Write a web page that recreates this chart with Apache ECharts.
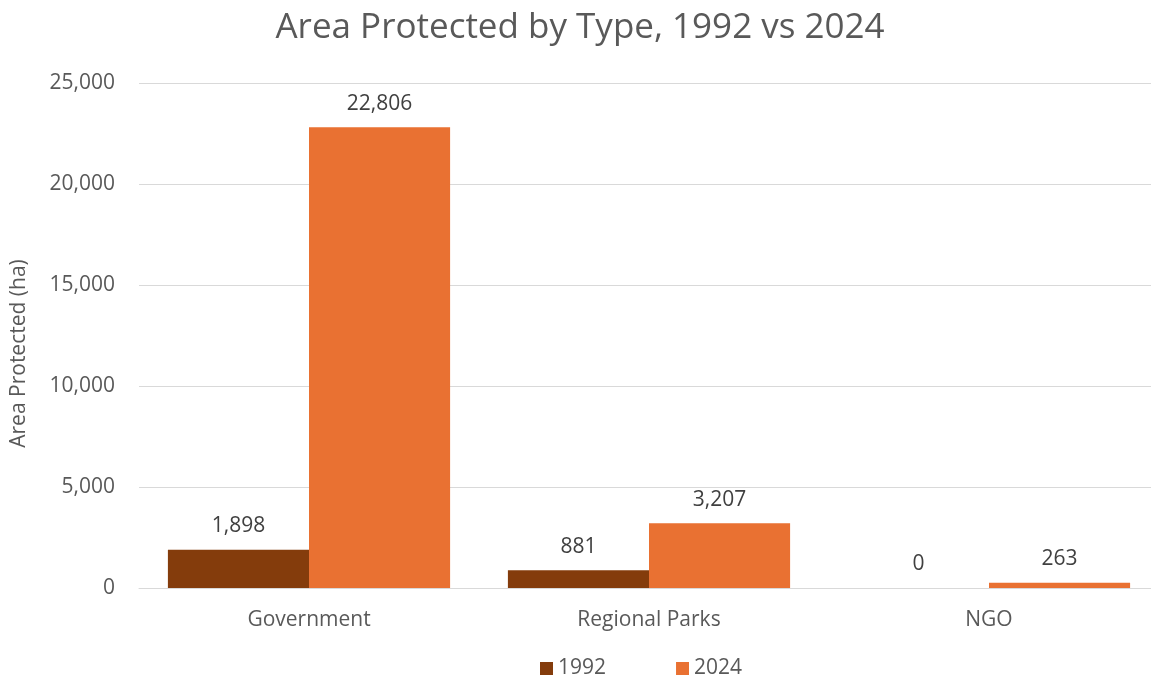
<!DOCTYPE html>
<html><head><meta charset="utf-8">
<script src="https://cdn.jsdelivr.net/npm/echarts@6/dist/echarts.min.js"></script>
<style>html,body{margin:0;padding:0;background:#fff;overflow:hidden}#c{width:1160px;height:680px}</style>
</head><body><div id="c"></div>
<script>
const categories = ['Government', 'Regional Parks', 'NGO'];
const seriesNames = ['1992', '2024'];
const values1992 = [1898, 881, 0];
const values2024 = [22806, 3207, 263];
const yTicks = { min: 0, max: 25000, interval: 5000 };

const font = 'Aptos, "Open Sans", "Noto Sans", sans-serif';
const txt = '#595959';
const chart = echarts.init(document.getElementById('c'));
const lbl = {
  show: true, position: 'top', distance: 13, color: '#404040', fontSize: 21, fontFamily: font,
  formatter: p => p.value.toLocaleString('en-US')
};
chart.setOption({
  animation: false,
  title: { text: 'Area Protected by Type, 1992 vs 2024', left: 'center', top: 6,
    textStyle: { color: txt, fontSize: 35, fontWeight: 'normal', fontFamily: font } },
  legend: { bottom: -4, left: 535, itemWidth: 13, itemHeight: 13, itemGap: 70, icon: 'rect',
    textStyle: { color: txt, fontSize: 21, fontFamily: font } },
  grid: { left: 139, right: 1, top: 83, bottom: 92 },
  xAxis: { type: 'category', data: categories,
    axisLine: { lineStyle: { color: '#d9d9d9', width: 1 } }, axisTick: { show: false },
    axisLabel: { color: txt, fontSize: 21, fontFamily: font, margin: 22 } },
  yAxis: { type: 'value', min: yTicks.min, max: yTicks.max, interval: yTicks.interval,
    name: 'Area Protected (ha)', nameLocation: 'middle', nameGap: 109, nameRotate: 90,
    nameTextStyle: { color: txt, fontSize: 21, fontFamily: font, padding: [0, 36, 0, 0] },
    axisLabel: { color: txt, fontSize: 21, fontFamily: font, margin: 24,
      formatter: v => v.toLocaleString('en-US') },
    splitLine: { lineStyle: { color: '#d9d9d9', width: 1 } } },
  series: [
    { name: seriesNames[0], type: 'bar', data: values1992, barGap: '0%', barCategoryGap: '17%',
      itemStyle: { color: '#843C0C' }, label: lbl },
    { name: seriesNames[1], type: 'bar', data: values2024, barGap: '0%', barCategoryGap: '17%',
      itemStyle: { color: '#E97132' }, label: lbl }
  ]
});
</script></body></html>
